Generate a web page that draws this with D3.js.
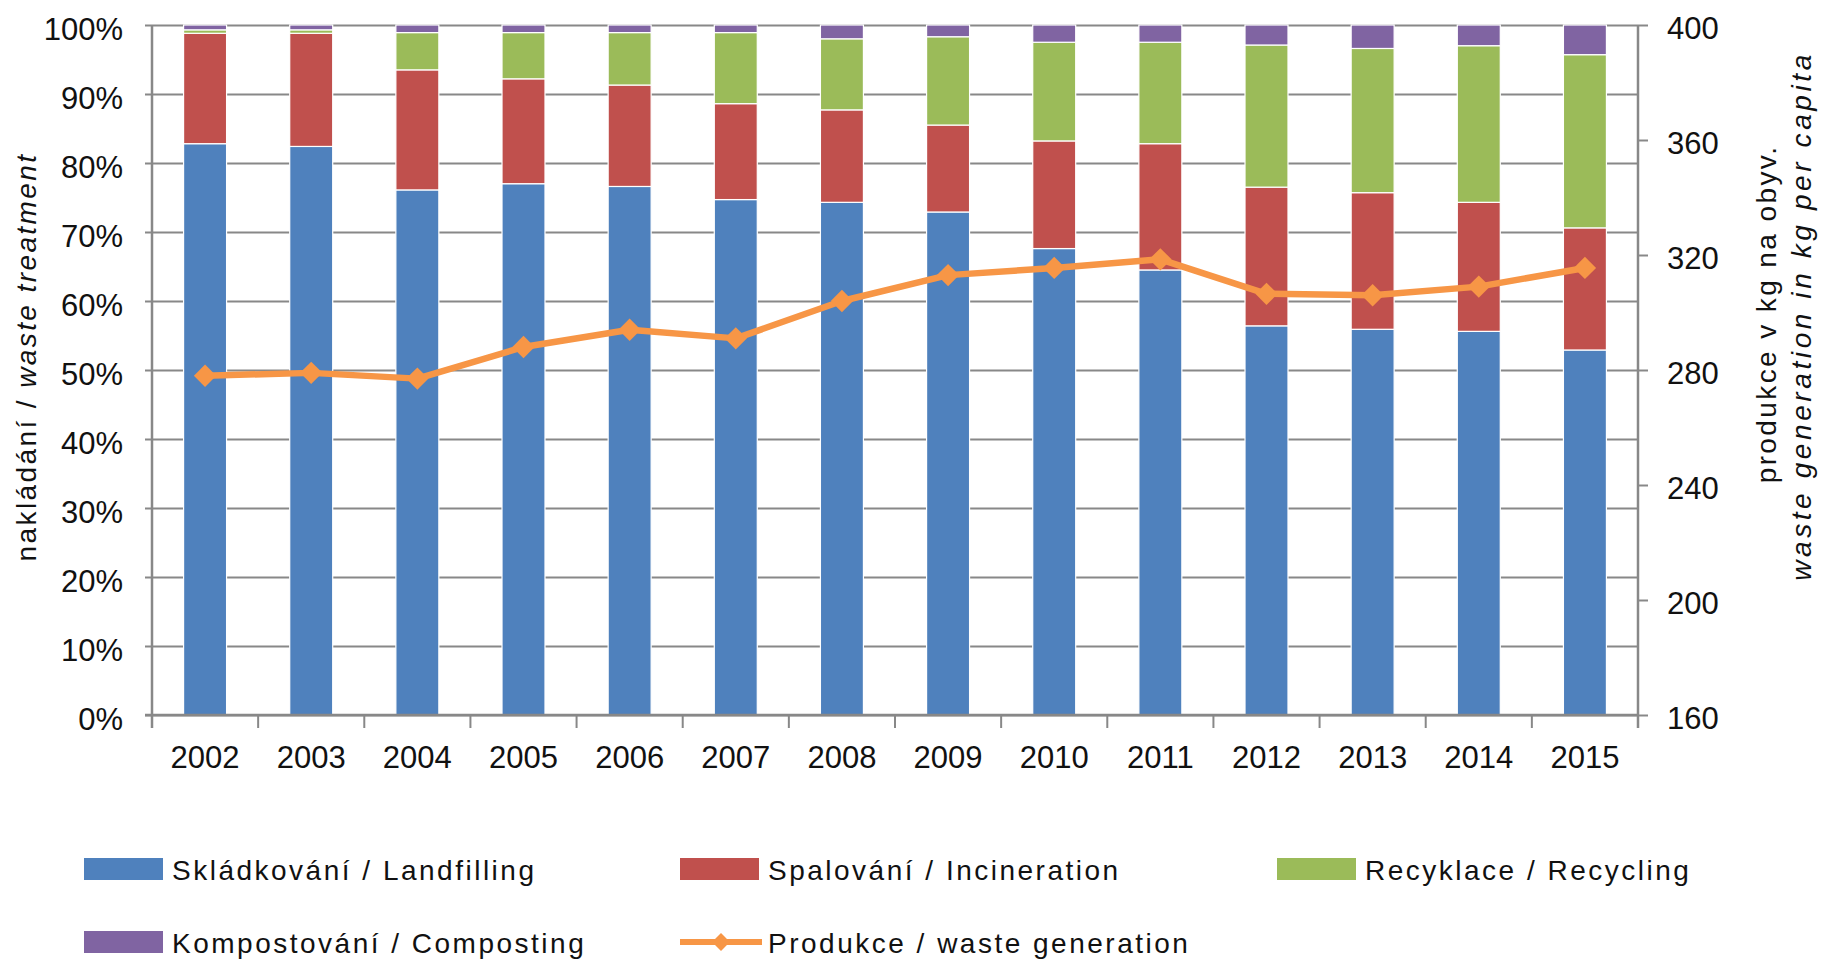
<!DOCTYPE html>
<html>
<head>
<meta charset="utf-8">
<script src="https://cdn.jsdelivr.net/npm/d3@7"></script>
<style>
  body { margin: 0; background: #fff; }
  svg { display: block; font-family: "Liberation Sans", Arial, sans-serif; }
</style>
</head>
<body>
<div id="chart"></div>
<script>
// data
var years = ["2002","2003","2004","2005","2006","2007","2008","2009","2010","2011","2012","2013","2014","2015"];
var landfilling  = [82.8, 82.4, 76.1, 77.0, 76.6, 74.7, 74.3, 72.9, 67.6, 64.5, 56.4, 55.9, 55.6, 52.9];
var incineration = [16.0, 16.4, 17.4, 15.2, 14.7, 13.9, 13.4, 12.6, 15.6, 18.3, 20.1, 19.8, 18.7, 17.7];
var recycling    = [0.5, 0.5, 5.4, 6.7, 7.6, 10.3, 10.3, 12.8, 14.3, 14.7, 20.6, 20.9, 22.7, 25.1];
var composting   = [0.7, 0.7, 1.1, 1.1, 1.1, 1.1, 2.0, 1.7, 2.5, 2.5, 2.9, 3.4, 3.0, 4.3];
var generation   = [278, 279, 277, 288, 294, 291, 304, 313, 315.5, 318.5, 306.5, 306, 309, 315.5];

var seriesKeys   = ["landfilling", "incineration", "recycling", "composting"];
var seriesLabels = ["Skládkování / Landfilling", "Spalování / Incineration", "Recyklace / Recycling", "Kompostování / Composting"];
var lineLabel    = "Produkce / waste generation";
var leftTicks    = [0,10,20,30,40,50,60,70,80,90,100];
var rightTicks   = [160,200,240,280,320,360,400];

var colors = {landfilling: "#4F81BD", incineration: "#C0504D", recycling: "#9BBB59", composting: "#8064A2"};
var lineColor = "#F79646";
var gridColor = "#888888";

var W = 1822, H = 960;
var pLeft = 152, pRight = 1638, pTop = 25, pBottom = 715;

var svg = d3.select("#chart").append("svg")
  .attr("width", W).attr("height", H);

// table for the stack
var rows = years.map(function(y, i) {
  return {year: y, landfilling: landfilling[i], incineration: incineration[i],
          recycling: recycling[i], composting: composting[i], gen: generation[i]};
});

var x = d3.scaleBand().domain(years).range([pLeft, pRight])
  .paddingInner(0.595).paddingOuter(0.2975);
var y = d3.scaleLinear().domain([0, 100]).range([pBottom, pTop]);
var yR = d3.scaleLinear().domain([160, 400]).range([pBottom, pTop]);

// gridlines (they also make the left tick marks)
svg.append("g")
  .attr("transform", "translate(" + pLeft + ",0)")
  .call(d3.axisLeft(y).tickValues(leftTicks).tickSize(-(pRight - pLeft)).tickSizeOuter(0).tickFormat(""))
  .call(function(g) { g.select(".domain").remove(); })
  .selectAll("line").attr("stroke", gridColor).attr("stroke-width", 2)
  .attr("x1", -7).attr("x2", pRight - pLeft);

// bars
var stack = d3.stack().keys(seriesKeys)(rows);
svg.append("g").selectAll("g")
  .data(stack).enter().append("g")
    .attr("fill", function(d) { return colors[d.key]; })
  .selectAll("rect")
  .data(function(d) { return d; }).enter().append("rect")
    .attr("x", function(d) { return x(d.data.year); })
    .attr("width", x.bandwidth())
    .attr("y", function(d) { return y(d[1]); })
    .attr("height", function(d) { return y(d[0]) - y(d[1]); })
    .attr("stroke", "#fff").attr("stroke-width", 1.2);

// axis lines
svg.append("line").attr("x1", pLeft).attr("x2", pLeft).attr("y1", pTop).attr("y2", pBottom + 13)
  .attr("stroke", gridColor).attr("stroke-width", 2.5);
svg.append("line").attr("x1", pRight).attr("x2", pRight).attr("y1", pTop).attr("y2", pBottom + 13)
  .attr("stroke", gridColor).attr("stroke-width", 2.5);
svg.append("line").attr("x1", pLeft - 7).attr("x2", pRight).attr("y1", pBottom).attr("y2", pBottom)
  .attr("stroke", gridColor).attr("stroke-width", 2.5);

// left tick labels
svg.append("g").selectAll("text")
  .data(leftTicks).enter().append("text")
    .attr("x", 123).attr("y", function(d) { return y(d); })
    .attr("dy", "0.48em")
    .attr("text-anchor", "end")
    .attr("font-size", 31).attr("fill", "#111")
    .text(function(d) { return d + "%"; });

// right axis
var rAxis = svg.append("g")
  .attr("transform", "translate(" + pRight + ",0)")
  .call(d3.axisRight(yR).tickValues(rightTicks).tickSize(10).tickPadding(19).tickSizeOuter(0));
rAxis.select(".domain").remove();
rAxis.selectAll("line").attr("stroke", gridColor).attr("stroke-width", 2);
rAxis.selectAll("text").attr("font-size", 31).attr("fill", "#111").attr("dy", "0.45em")
  .attr("font-family", "Liberation Sans, Arial, sans-serif");

// x axis: ticks between categories, labels centred
var step = x.step();
var bounds = years.map(function(d) { return x(d) + x.bandwidth() / 2 - step / 2; });
bounds.push(pRight);
svg.append("g").selectAll("line")
  .data(bounds).enter().append("line")
    .attr("x1", function(d) { return d; }).attr("x2", function(d) { return d; })
    .attr("y1", pBottom).attr("y2", pBottom + 13)
    .attr("stroke", gridColor).attr("stroke-width", 2);

svg.append("g").selectAll("text")
  .data(years).enter().append("text")
    .attr("x", function(d) { return x(d) + x.bandwidth() / 2; })
    .attr("y", pBottom + 53)
    .attr("text-anchor", "middle")
    .attr("font-size", 31).attr("fill", "#111")
    .text(function(d) { return d; });

// waste generation line
var cx = function(d) { return x(d.year) + x.bandwidth() / 2; };
svg.append("path")
  .datum(rows)
  .attr("fill", "none")
  .attr("stroke", lineColor).attr("stroke-width", 6.5)
  .attr("stroke-linejoin", "round")
  .attr("d", d3.line().x(cx).y(function(d) { return yR(d.gen); }));

var diamond = d3.symbol().type(d3.symbolSquare).size(250);
svg.append("g").selectAll("path")
  .data(rows).enter().append("path")
    .attr("d", diamond)
    .attr("fill", lineColor)
    .attr("transform", function(d) { return "translate(" + cx(d) + "," + yR(d.gen) + ") rotate(45)"; });

// axis titles
var lt = svg.append("text")
  .attr("transform", "translate(36,357) rotate(-90)")
  .attr("text-anchor", "middle")
  .attr("font-size", 28).attr("letter-spacing", 2.4).attr("fill", "#111");
lt.append("tspan").text("nakládání / ");
lt.append("tspan").attr("font-style", "italic").text("waste treatment");

svg.append("text")
  .attr("transform", "translate(1776,314) rotate(-90)")
  .attr("text-anchor", "middle")
  .attr("font-size", 28).attr("letter-spacing", 2.4).attr("fill", "#111")
  .text("produkce v kg na obyv.");
svg.append("text")
  .attr("transform", "translate(1811,316) rotate(-90)")
  .attr("text-anchor", "middle")
  .attr("font-size", 28).attr("letter-spacing", 3.6).attr("font-style", "italic").attr("fill", "#111")
  .text("waste generation in kg per capita");

// legend
var legendPos = [[84, 858], [680, 858], [1277, 858], [84, 931]];
var legend = svg.append("g");
seriesKeys.forEach(function(k, i) {
  var p = legendPos[i];
  legend.append("rect").attr("x", p[0]).attr("y", p[1])
    .attr("width", 79).attr("height", 22).attr("fill", colors[k]);
  legend.append("text").attr("x", p[0] + 88).attr("y", p[1] + 22)
    .attr("font-size", 28).attr("letter-spacing", 2.5).attr("fill", "#111")
    .text(seriesLabels[i]);
});
legend.append("line").attr("x1", 680).attr("x2", 762).attr("y1", 942).attr("y2", 942)
  .attr("stroke", lineColor).attr("stroke-width", 6);
legend.append("path").attr("d", d3.symbol().type(d3.symbolSquare).size(160))
  .attr("transform", "translate(721,942) rotate(45)").attr("fill", lineColor);
legend.append("text").attr("x", 768).attr("y", 953)
  .attr("font-size", 28).attr("letter-spacing", 2.5).attr("fill", "#111")
  .text(lineLabel);
</script>
</body>
</html>
